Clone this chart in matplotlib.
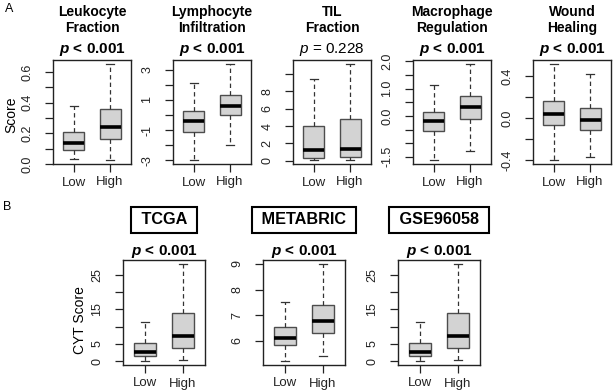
import matplotlib
matplotlib.use('Agg')
import matplotlib.pyplot as plt

plt.rcParams['font.family'] = ['Liberation Sans', 'DejaVu Sans']
plt.rcParams['mathtext.fontset'] = 'custom'
plt.rcParams['mathtext.rm'] = 'Liberation Sans'
plt.rcParams['mathtext.it'] = 'Liberation Sans:italic:bold'
plt.rcParams['mathtext.sf'] = 'Liberation Sans:italic'
plt.rcParams['mathtext.bf'] = 'Liberation Sans:bold'

groups = ['Low', 'High']

# five-number summaries: whisker low, q1, median, q3, whisker high
leuk_low = [0.03, 0.09, 0.138, 0.21, 0.377]
leuk_high = [0.026, 0.16, 0.242, 0.357, 0.654]
lymph_low = [-3.0, -1.1, -0.38, 0.27, 2.13]
lymph_high = [-2.0, -0.03, 0.62, 1.36, 3.4]
til_low = [0.05, 0.35, 1.24, 4.0, 9.5]
til_high = [0.05, 0.38, 1.36, 4.8, 11.2]
macro_low = [-1.62, -0.56, -0.2, 0.14, 1.13]
macro_high = [-1.27, -0.1, 0.31, 0.72, 1.91]
wound_low = [-0.40, -0.0625, 0.04, 0.166, 0.516]
wound_high = [-0.37, -0.116, -0.02, 0.097, 0.42]

tcga_low = [0.0, 1.35, 2.7, 5.2, 11.2]
tcga_high = [0.2, 3.75, 7.3, 13.8, 28.1]
metabric_low = [5.21, 5.82, 6.13, 6.53, 7.53]
metabric_high = [5.39, 6.3, 6.78, 7.39, 9.0]
gse_low = [0.0, 1.35, 2.7, 5.2, 11.2]
gse_high = [0.2, 3.75, 7.3, 13.8, 28.1]

a_titles = [('Leukocyte', 'Fraction'), ('Lymphocyte', 'Infiltration'),
            ('TIL', 'Fraction'), ('Macrophage', 'Regulation'), ('Wound', 'Healing')]
a_pvals = ['< 0.001', '< 0.001', '= 0.228', '< 0.001', '< 0.001']
a_sig = [True, True, False, True, True]
a_data = [(leuk_low, leuk_high), (lymph_low, lymph_high), (til_low, til_high),
          (macro_low, macro_high), (wound_low, wound_high)]
a_ticks = [[0.0, 0.1, 0.2, 0.3, 0.4, 0.5, 0.6],
           [-3, -2, -1, 0, 1, 2, 3],
           [0, 2, 4, 6, 8, 10],
           [-1.5, -1.0, -0.5, 0.0, 0.5, 1.0, 1.5, 2.0],
           [-0.4, -0.2, 0.0, 0.2, 0.4]]
a_ticklabels = [['0.0', '', '0.2', '', '0.4', '', '0.6'],
                ['-3', '', '-1', '', '1', '', '3'],
                ['0', '2', '4', '6', '8', ''],
                ['-1.5', '', '', '0.0', '', '1.0', '', '2.0'],
                ['-0.4', '', '0.0', '', '0.4']]

b_titles = ['TCGA', 'METABRIC', 'GSE96058']
b_pvals = ['< 0.001', '< 0.001', '< 0.001']
b_data = [(tcga_low, tcga_high), (metabric_low, metabric_high), (gse_low, gse_high)]
b_ticks = [[0, 5, 10, 15, 20, 25], [6, 7, 8, 9], [0, 5, 10, 15, 20, 25]]
b_ticklabels = [['0', '5', '', '15', '', '25'], ['6', '7', '8', '9'],
                ['0', '5', '', '15', '', '25']]

W, H = 614, 391
fig = plt.figure(figsize=(W / 100, H / 100), dpi=100)


def px_axes(x0, y0, x1, y1):
    return fig.add_axes([x0 / W, 1 - y1 / H, (x1 - x0) / W, (y1 - y0) / H])


def draw_box(ax, low, high, ticks, labels):
    stats = []
    for s, name in zip([low, high], groups):
        stats.append(dict(whislo=s[0], q1=s[1], med=s[2], q3=s[3], whishi=s[4],
                          fliers=[], label=name))
    ax.bxp(stats, positions=[1, 2], widths=0.58, capwidths=0.22,
           patch_artist=True, showfliers=False,
           boxprops=dict(facecolor='#d3d3d3', edgecolor='#4d4d4d', linewidth=1.0),
           medianprops=dict(color='black', linewidth=2.6, solid_capstyle='butt'),
           whiskerprops=dict(color='#333333', linewidth=0.9, linestyle=(0, (3.5, 2.5))),
           capprops=dict(color='#333333', linewidth=0.9))
    lo = min(low[0], high[0])
    hi = max(low[4], high[4])
    pad = 0.04 * (hi - lo)
    ax.set_ylim(lo - pad, hi + pad)
    ax.set_xlim(0.42, 2.58)
    ax.set_yticks(ticks)
    ax.set_yticklabels(labels, rotation=90, va='center')
    ax.tick_params(axis='y', direction='out', length=6, width=0.9, pad=8,
                   labelsize=9, colors='#222222')
    ax.tick_params(axis='x', direction='out', length=6, width=0.9, pad=3,
                   labelsize=9.5, colors='#222222')
    for sp in ax.spines.values():
        sp.set_color('#222222')
        sp.set_linewidth(1.0)


# panel A
a_x = [(53, 131), (173, 251), (293, 371), (413, 491), (533, 611)]
for i, (x0, x1) in enumerate(a_x):
    ax = px_axes(x0, 60, x1, 164)
    draw_box(ax, a_data[i][0], a_data[i][1], a_ticks[i], a_ticklabels[i])
    ax.text(0.5, 1.464, a_titles[i][0], transform=ax.transAxes, ha='center',
            va='center', fontsize=10, fontweight='bold')
    ax.text(0.5, 1.308, a_titles[i][1], transform=ax.transAxes, ha='center',
            va='center', fontsize=10, fontweight='bold')
    if a_sig[i]:
        ax.text(0.5, 1.10, r'$\mathit{p}$ ' + a_pvals[i], transform=ax.transAxes,
                ha='center', va='center', fontsize=11, fontweight='bold')
    else:
        ax.text(0.5, 1.10, r'$\mathsf{p}$ ' + a_pvals[i], transform=ax.transAxes,
                ha='center', va='center', fontsize=11)

fig.text(11 / W, 1 - 115 / H, 'Score', rotation=90, ha='center', va='center', fontsize=10)

# panel B
b_x = [(123, 205), (263, 345), (398, 480)]
for i, (x0, x1) in enumerate(b_x):
    ax = px_axes(x0, 260, x1, 365)
    draw_box(ax, b_data[i][0], b_data[i][1], b_ticks[i], b_ticklabels[i])
    ax.text(0.5, 1.381, ' ' + b_titles[i] + ' ', transform=ax.transAxes, ha='center',
            va='center', fontsize=11.7, fontweight='bold',
            bbox=dict(boxstyle='square,pad=0.35', facecolor='white',
                      edgecolor='black', linewidth=1.5))
    ax.text(0.5, 1.079, r'$\mathit{p}$ ' + b_pvals[i], transform=ax.transAxes,
            ha='center', va='center', fontsize=11, fontweight='bold')

fig.text(80 / W, 1 - 320 / H, 'CYT Score', rotation=90, ha='center', va='center', fontsize=10)

fig.text(9 / W, 1 - 9 / H, 'A', ha='center', va='center', fontsize=9)
fig.text(7 / W, 1 - 207 / H, 'B', ha='center', va='center', fontsize=9)

fig.savefig('out.png', dpi=100)
